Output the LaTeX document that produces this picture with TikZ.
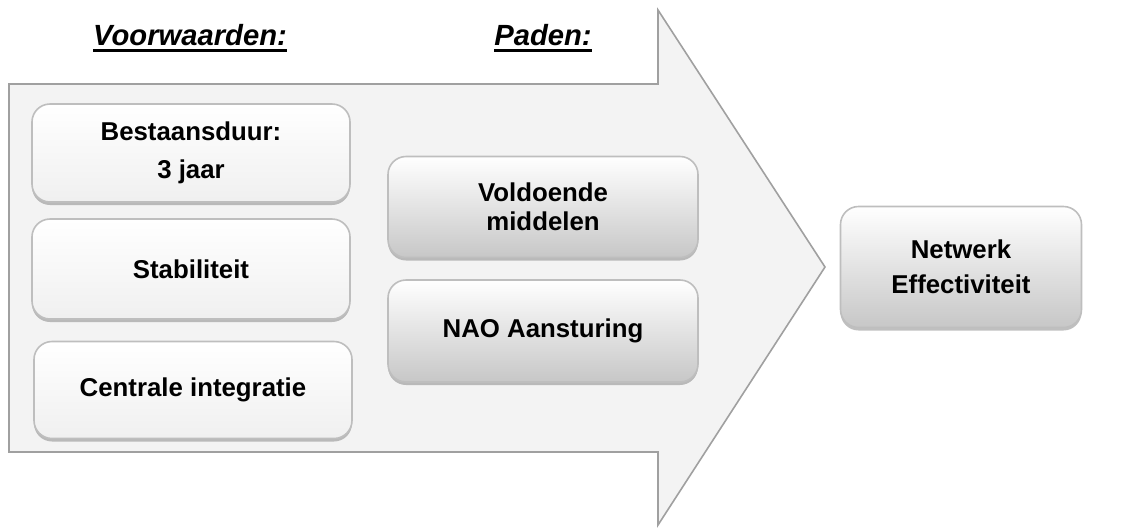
\documentclass[tikz,border=0pt]{standalone}
\usepackage{fontspec}
\setmainfont{Liberation Sans}
\usepackage{tikz}
\usetikzlibrary{shadows}

\newsavebox\ulbox
\newcommand{\thickul}[1]{\sbox\ulbox{#1}\rlap{\usebox\ulbox}\rule[-3pt]{\wd\ulbox}{1.4pt}}

\definecolor{arrowfill}{RGB}{243,243,243}
\definecolor{arrowline}{RGB}{160,160,160}
\definecolor{boxline}{RGB}{190,190,190}

\tikzset{
	glossbox/.style={rounded corners=9pt, draw=boxline, line width=0.8pt,
		top color=white, bottom color=black!6, align=center,
		font=\fontsize{12.9}{19}\selectfont\bfseries,
		drop shadow={shadow xshift=0pt, shadow yshift=-1.5pt, opacity=.5}},
	greybox/.style={glossbox, bottom color=black!22},
	heading/.style={font=\fontsize{14.6}{17}\selectfont\bfseries\itshape}
}

\begin{document}
\begin{tikzpicture}[x=0.5pt,y=-0.5pt]

	\useasboundingbox (0,0) rectangle (1125,527);
	\draw[line width=0.8pt, draw=arrowline, fill=arrowfill] (9,84) -- (658,84) -- (658,10) -- (825,267) -- (658,525) -- (658,452) -- (9,452) -- cycle; %big arrow

	\node[heading] (voorw) at (190,38) {\thickul{Voorwaarden:}};
	\node[heading] (paden) at (543,38) {\thickul{Paden:}};

	\node[glossbox, minimum width=159pt, minimum height=49pt] (duur) at (191,153) {Bestaansduur:\\3 jaar};
	\node[glossbox, minimum width=159pt, minimum height=50pt] (stab) at (191,269) {Stabiliteit};
	\node[glossbox, minimum width=159pt, minimum height=48.5pt] (integr) at (193,390) {Centrale integratie};

	\node[greybox, minimum width=155pt, minimum height=50.5pt, font=\fontsize{12.9}{14.5}\selectfont\bfseries] (middelen) at (543,207) {Voldoende\\middelen};
	\node[greybox, minimum width=155pt, minimum height=51pt] (nao) at (543,331) {NAO Aansturing};

	\node[greybox, minimum width=120.5pt, minimum height=60.5pt, font=\fontsize{12.9}{17.5}\selectfont\bfseries] (effect) at (961,267) {Netwerk\\Effectiviteit};

\end{tikzpicture}
\end{document}
